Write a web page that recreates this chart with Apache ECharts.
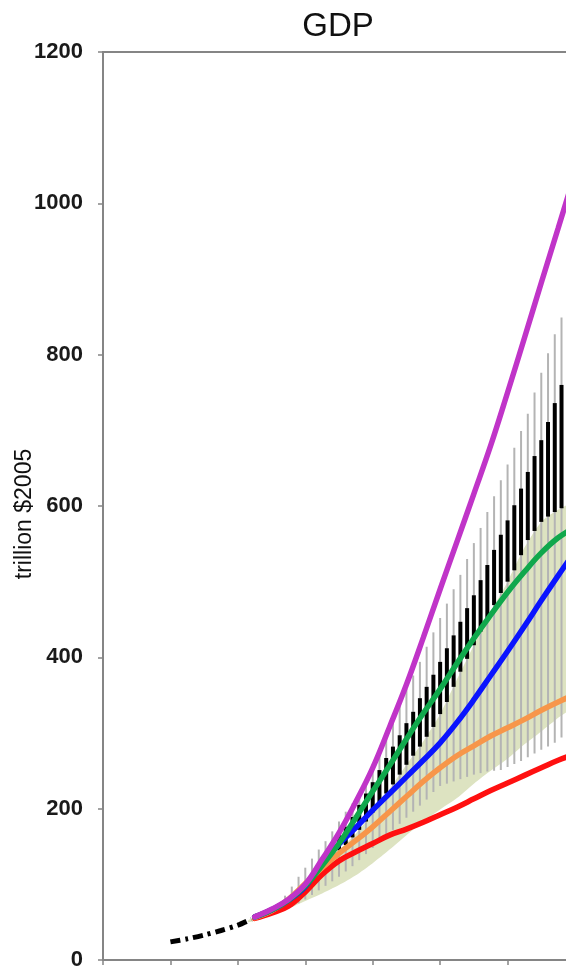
<!DOCTYPE html>
<html>
<head>
<meta charset="utf-8">
<script src="https://cdn.jsdelivr.net/npm/echarts@6/dist/echarts.min.js"></script>
<style>html,body{margin:0;padding:0;background:#fff}#c{width:566px;height:971px}</style>
</head>
<body>
<div id="c"></div>
<script>
// ---- data ----
const histYears = [1980, 1985, 1990, 1995, 2000, 2004];
const histGDP   = [24, 28, 33, 39, 46, 54];

const years = [2005,2010,2015,2020,2025,2030,2035,2040,2045,2050,2055,2060,2065,2070,2075,2080,2085,2090,2095,2100];
const magenta = [57,67,80,100,133,168,209,254,308,364,426,490,553,616,680,750,822,895,967,1040];
const green   = [57,66,79,98,125,154,188,223,257,292,326,358,392,425,456,486,513,538,558,572];
const blue    = [57,66,79,97,128,153,175,198,220,242,264,287,314,344,376,408,441,475,508,540];
const orange  = [56,65,80,101,122,141,158,176,196,216,236,254,270,283,296,307,318,330,341,351];
const red     = [55,62,71,90,113,131,143,154,165,173,182,192,202,213,224,234,244,254,264,272];

const bandYears  = [2003,2005,2010,2015,2020,2025,2030,2035,2040,2045,2050,2055,2060,2065,2070,2075,2080,2085,2090,2095,2100];
const bandTop    = [52,57,66,80,98,122,145,167,195,226,258,289,325,371,416,460,500,545,579,595,603];
const bandBottom = [50,52,59,68,78,88,99,112,128,146,165,183,199,214,233,250,266,285,302,320,340];

const barYears   = [2008,2010,2012,2014,2016,2018,2020,2022,2024,2026,2028,2030,2032,2034,2036,2038,2040,2042,2044,2046,2048,2050,2052,2054,2056,2058,2060,2062,2064,2066,2068,2070,2072,2074,2076,2078,2080,2082,2084,2086,2088,2090,2092,2094,2096,2098];
const grayTop    = [63,68,75,85,97,110,122,134,146,157,170,183,196,207,220,236,253,274,295,317,338,358,376,394,414,433,452,471,490,509,530,551,571,592,613,634,655,677,699,722,750,776,802,827,849,870];
const grayBottom = [58,60,63,66,70,75,80,86,92,98,104,110,117,124,132,140,148,156,164,172,180,188,196,204,212,222,230,233,236,239,242,245,247,249,250,251,255,259,263,268,273,278,282,287,294,300];

const blackYears  = [2030,2032,2034,2036,2038,2040,2042,2044,2046,2048,2050,2052,2054,2056,2058,2060,2062,2064,2066,2068,2070,2072,2074,2076,2078,2080,2082,2084,2086,2088,2090,2092,2094,2096,2098];
const blackTop    = [165,176,189,205,220,235,251,267,282,297,313,328,346,361,377,394,412,429,447,465,482,502,522,542,562,581,601,623,645,666,687,711,736,760,783];
const blackBottom = [145,152,162,172,183,195,207,220,232,245,258,270,282,295,308,325,341,361,381,398,416,434,452,469,485,500,515,535,555,567,579,586,592,597,600];

const yTicks = [0,200,400,600,800,1000,1200];

// ---- helpers ----
const pairs = (xs, ys) => xs.map((x, i) => [x, ys[i]]);
const ranges = (xs, lo, hi) => xs.map((x, i) => [x, lo[i], hi[i]]);
function vbar(color, width) {
  return function (params, api) {
    const p1 = api.coord([api.value(0), api.value(1)]);
    const p2 = api.coord([api.value(0), api.value(2)]);
    return { type: 'line', shape: { x1: p1[0], y1: p1[1], x2: p2[0], y2: p2[1] },
             style: { stroke: color, lineWidth: width } };
  };
}
function bandPolygon(params, api) {
  const pts = [];
  for (let i = 0; i < bandYears.length; i++) pts.push(api.coord([bandYears[i], bandTop[i]]));
  for (let i = bandYears.length - 1; i >= 0; i--) pts.push(api.coord([bandYears[i], bandBottom[i]]));
  return { type: 'polygon', shape: { points: pts, smooth: 0.25 }, style: { fill: '#dde3c1', stroke: null } };
}
function curve(name, ys, color, w) {
  return { name, type: 'line', data: pairs(years, ys), smooth: 0.4, symbol: 'none',
           lineStyle: { color, width: w, cap: 'round' }, z: 5 };
}

const chart = echarts.init(document.getElementById('c'), null, { renderer: 'canvas' });
chart.setOption({
  animation: false,
  title: { text: 'GDP', left: 333, top: 5, textAlign: 'center',
           textStyle: { fontFamily: 'Liberation Sans, Arial', fontSize: 33, fontWeight: 'normal', color: '#111' } },
  grid: { left: 103, top: 52, width: 472, height: 908, outerBoundsMode: 'none', containLabel: false,
          show: true, borderColor: '#858585', borderWidth: 2, backgroundColor: 'transparent' },
  xAxis: { type: 'value', min: 1960, max: 2100, interval: 20,
           axisLine: { show: true, lineStyle: { color: '#858585', width: 2 } },
           axisTick: { show: true, inside: false, length: 5, lineStyle: { color: '#858585', width: 1.5 } },
           axisLabel: { show: false }, splitLine: { show: false } },
  yAxis: { type: 'value', min: yTicks[0], max: yTicks[yTicks.length - 1], interval: 200,
           name: 'trillion $2005', nameLocation: 'middle', nameGap: 67, nameRotate: 90, nameMoveOverlap: false,
           nameTextStyle: { fontFamily: 'Liberation Sans, Arial', fontSize: 23, color: '#111', padding: [0, 16, 0, 0] },
           axisLine: { show: true, lineStyle: { color: '#858585', width: 2 } },
           axisTick: { show: true, inside: false, length: 5, lineStyle: { color: '#858585', width: 1.5 } },
           axisLabel: { fontFamily: "'Liberation Sans', Arial", fontSize: 22, fontWeight: 'bold', color: '#1a1a1a', margin: 20,
                        formatter: v => String(v) },
           splitLine: { show: false } },
  series: [
    { name: 'band', type: 'custom', data: [[bandYears[0], bandBottom[0]]], encode: { x: 0, y: 1 },
      renderItem: bandPolygon, z: 1, silent: true },
    { name: 'range', type: 'custom', data: ranges(barYears, grayBottom, grayTop), encode: { x: 0, y: [1, 2] },
      renderItem: vbar('#b4b4b4', 2), z: 2 },
    { name: 'iqr', type: 'custom', data: ranges(blackYears, blackBottom, blackTop), encode: { x: 0, y: [1, 2] },
      renderItem: vbar('#000000', 4), z: 3 },
    { name: 'history', type: 'line', data: pairs(histYears, histGDP), smooth: 0.3, symbol: 'none',
      lineStyle: { color: '#000', width: 5, type: [10, 5, 3, 5], cap: 'butt' }, z: 4 },
    curve('red', red, '#ff1010', 5.5),
    curve('orange', orange, '#f7964a', 5.5),
    curve('blue', blue, '#0a14ff', 5.5),
    curve('green', green, '#10a84c', 5.5),
    curve('magenta', magenta, '#c034c8', 5.5)
  ]
});
</script>
</body>
</html>
